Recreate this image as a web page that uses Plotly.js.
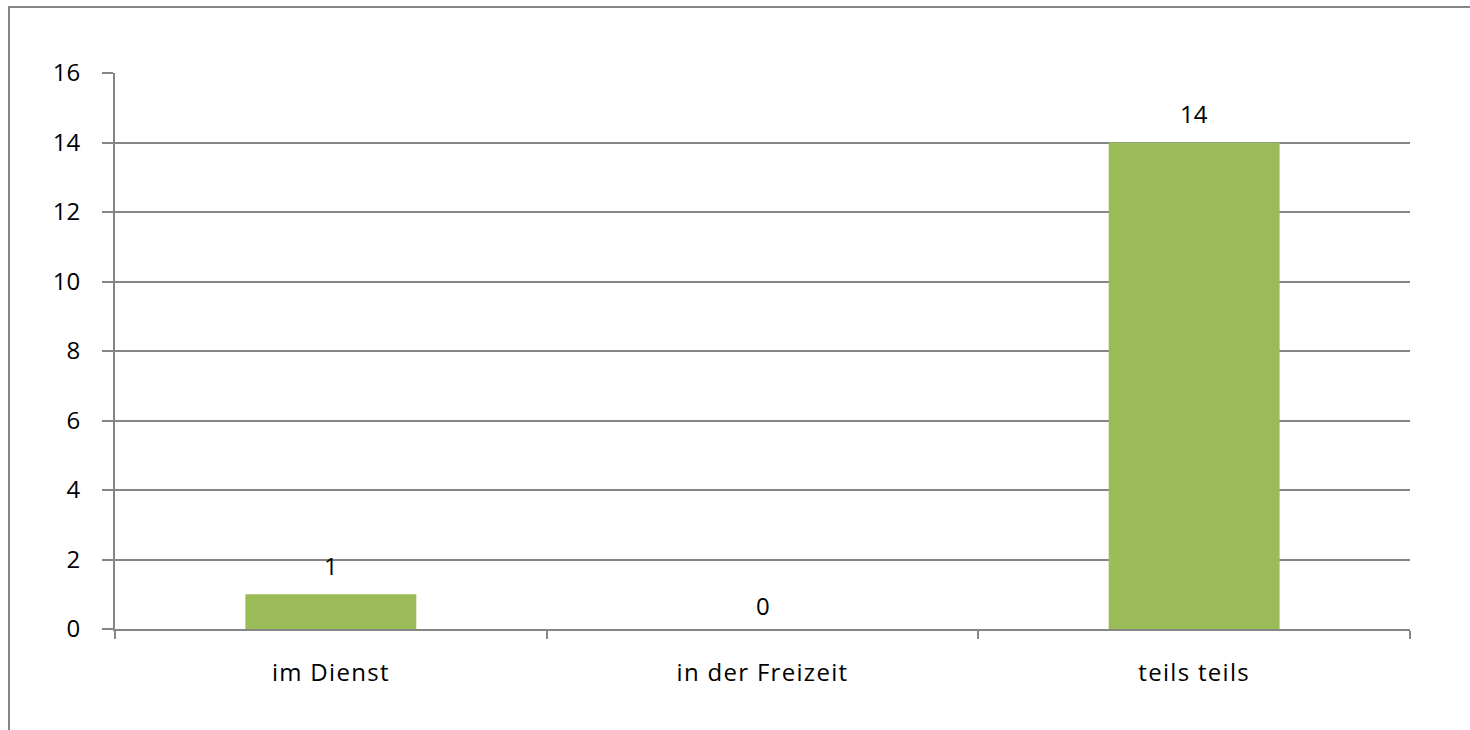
<!DOCTYPE html>
<html><head><meta charset="utf-8">
<script src="https://cdn.plot.ly/plotly-3.0.1.min.js"></script>
<style>
html,body{margin:0;padding:0;background:#fff;}
#frame{position:absolute;left:8px;top:6px;width:1462px;height:724px;border-top:2px solid #868686;border-left:2px solid #868686;box-sizing:border-box;pointer-events:none;z-index:5;}
#chart{width:1470px;height:730px;}
#chart .xtick text{letter-spacing:1.3px;}
</style></head>
<body>
<div id="frame"></div>
<div id="chart"></div>
<script>
const categories = ["im Dienst", "in der Freizeit", "teils teils"];
const values = [1, 0, 14];
const labels = ["1", "0", "14"];
const yTicks = [0, 2, 4, 6, 8, 10, 12, 14, 16];

const font = {family: "Open Sans, Lato, sans-serif", size: 24, color: "#000"};

Plotly.newPlot("chart", [{
  type: "bar",
  x: categories,
  y: values,
  marker: {color: "#9bbb59"},
  width: 0.396,
  hoverinfo: "none"
}], {
  width: 1470, height: 730,
  margin: {l: 115, r: 60, t: 73, b: 101},
  paper_bgcolor: "#fff", plot_bgcolor: "#fff",
  showlegend: false,
  font: font,
  xaxis: {
    type: "category",
    showgrid: false,
    showline: true, linecolor: "#868686", linewidth: 2,
    ticks: "outside", tickson: "boundaries", ticklen: 8, tickcolor: "#868686", tickwidth: 2,
    tickfont: font, ticklabelstandoff: 21,
    fixedrange: true
  },
  yaxis: {
    range: [0, 16],
    tickvals: yTicks,
    showgrid: true, gridcolor: "#868686", gridwidth: 2,
    zeroline: false,
    showline: true, linecolor: "#868686", linewidth: 2,
    ticks: "outside", ticklen: 11, tickcolor: "#868686", tickwidth: 2,
    tickfont: font, ticklabelstandoff: 17,
    fixedrange: true
  },
  annotations: categories.map((c, i) => ({
    x: c, y: values[i], text: labels[i], showarrow: false,
    xref: "x", yref: "y", yanchor: "middle", yshift: values[i] === 0 ? 24 : 29, font: font
  }))
}, {displayModeBar: false, staticPlot: true});
</script>
</body></html>
